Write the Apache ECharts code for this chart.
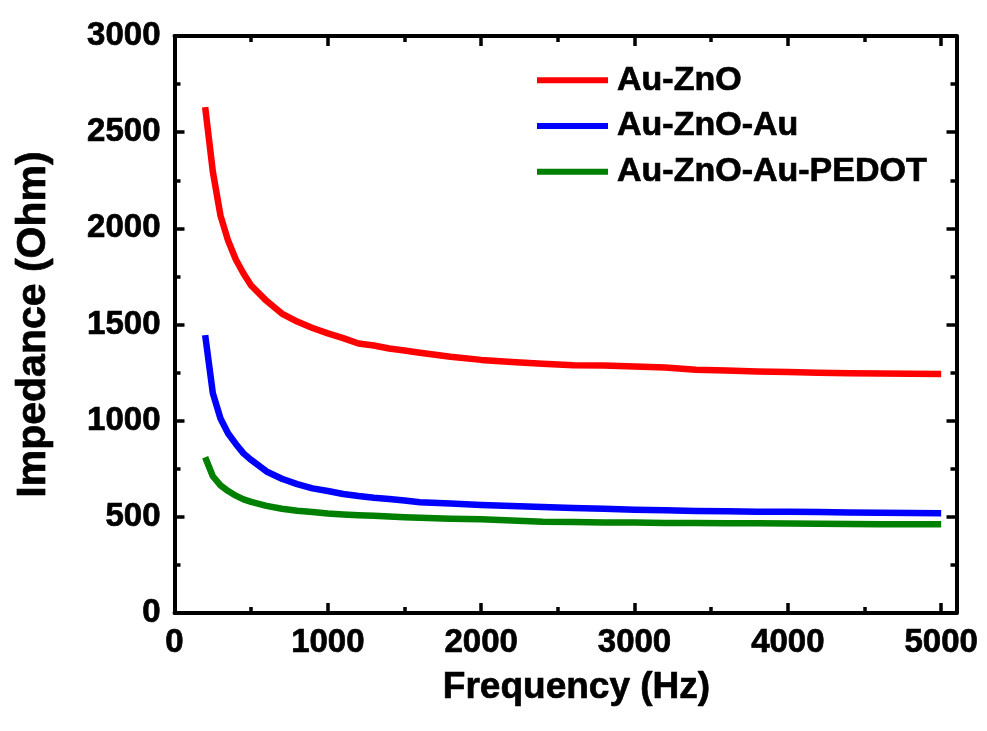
<!DOCTYPE html>
<html>
<head>
<meta charset="utf-8">
<script src="https://cdn.jsdelivr.net/npm/echarts@6/dist/echarts.min.js"></script>
<style>
  html, body { margin: 0; padding: 0; background: #fff; }
  #chart { width: 987px; height: 731px; }
</style>
</head>
<body>
<div id="chart"></div>
<script>
// Impedance vs. frequency for three electrode stacks
const frequency = [200, 250, 300, 350, 400, 450, 500, 600, 700, 800, 900, 1000,
  1100, 1200, 1300, 1400, 1500, 1600, 1800, 2000, 2200, 2400, 2600, 2800, 3000,
  3200, 3400, 3600, 3800, 4000, 4200, 4400, 4600, 4800, 5000];

const auZnO = [2630, 2295, 2066, 1935, 1838, 1765, 1703, 1623, 1557, 1515, 1482, 1454,
  1429, 1401, 1391, 1375, 1365, 1353, 1332, 1316, 1305, 1296, 1288, 1287, 1282,
  1276, 1265, 1261, 1256, 1253, 1249, 1246, 1245, 1244, 1243];

const auZnOAu = [1445, 1143, 1011, 933, 879, 830, 796, 736, 698, 670, 648, 634,
  619, 608, 599, 593, 585, 576, 569, 561, 556, 551, 546, 542, 537,
  534, 530, 529, 527, 526, 525, 523, 521, 520, 518];

const auZnOAuPedot = [810, 711, 664, 634, 610, 591, 578, 557, 542, 532, 525, 517,
  512, 508, 505, 502, 498, 495, 490, 487, 481, 475, 473, 471, 470,
  468, 468, 467, 466, 465, 464, 463, 462, 462, 461];

const seriesNames = ['Au-ZnO', 'Au-ZnO-Au', 'Au-ZnO-Au-PEDOT'];
const seriesColors = ['#ff0000', '#0000ff', '#008000'];

const xMajorTicks = [0, 1000, 2000, 3000, 4000, 5000];
const xMinorTicks = [500, 1500, 2500, 3500, 4500];
const yMajorTicks = [0, 500, 1000, 1500, 2000, 2500, 3000];
const yMinorTicks = [250, 750, 1250, 1750, 2250, 2750];

const FONT = '"Liberation Sans", Arial, Helvetica, sans-serif';
const X_MIN = 0, X_MAX = 5100, Y_MIN = 0, Y_MAX = 3000;

// heavy black text used for every label
const heavyText = {
  color: '#000', fontFamily: FONT, fontWeight: 'bold',
  textBorderColor: '#000', textBorderWidth: 0.7
};

function zip(xs, ys) {
  return xs.map((x, i) => [x, ys[i]]);
}

// One axis per side for the long ticks and one for the short ticks
function tickAxis(position, ticks, tickLen, withLine, isX) {
  return {
    type: 'value',
    position: position,
    min: isX ? X_MIN : Y_MIN,
    max: isX ? X_MAX : Y_MAX,
    axisLine: { show: withLine, onZero: false, lineStyle: { color: '#000', width: 4 } },
    axisTick: {
      show: true, inside: true, length: tickLen, customValues: ticks,
      lineStyle: { color: '#000', width: 3.5 }
    },
    axisLabel: { show: false },
    splitLine: { show: false }
  };
}

const labelStyle = Object.assign({ show: true, fontSize: 33, formatter: (v) => String(v) }, heavyText);

const xBottom = tickAxis('bottom', xMajorTicks, 10, true, true);
xBottom.axisLabel = Object.assign({}, labelStyle, { margin: 13, customValues: xMajorTicks });
xBottom.name = 'Frequency (Hz)';
xBottom.nameLocation = 'middle';
xBottom.nameGap = 56;
xBottom.nameTextStyle = Object.assign({ fontSize: 37, padding: [0, 0, 0, 22] }, heavyText);

const yLeft = tickAxis('left', yMajorTicks, 10, true, false);
yLeft.axisLabel = Object.assign({}, labelStyle, { margin: 14, customValues: yMajorTicks });
yLeft.name = 'Impedance (Ohm)';
yLeft.nameLocation = 'middle';
yLeft.nameGap = 120;
yLeft.nameTextStyle = Object.assign({ fontSize: 41 }, heavyText);

const option = {
  animation: false,
  backgroundColor: '#fff',
  grid: { left: 174.5, right: 30.5, top: 36, bottom: 118, containLabel: false },
  legend: {
    orient: 'vertical',
    left: 537,
    top: 63,
    padding: 0,
    itemGap: 11,
    itemWidth: 71,
    itemHeight: 6,
    icon: 'rect',
    data: seriesNames,
    textStyle: Object.assign({ fontSize: 34, lineHeight: 34, padding: [0, 0, 0, 4] }, heavyText)
  },
  xAxis: [
    xBottom,
    tickAxis('bottom', xMinorTicks, 6, false, true),
    tickAxis('top', xMajorTicks, 10, true, true),
    tickAxis('top', xMinorTicks, 6, false, true)
  ],
  yAxis: [
    yLeft,
    tickAxis('left', yMinorTicks, 6, false, false),
    tickAxis('right', yMajorTicks, 10, true, false),
    tickAxis('right', yMinorTicks, 6, false, false)
  ],
  series: [auZnO, auZnOAu, auZnOAuPedot].map((vals, i) => ({
    name: seriesNames[i],
    type: 'line',
    xAxisIndex: 0,
    yAxisIndex: 0,
    data: zip(frequency, vals),
    showSymbol: false,
    symbol: 'none',
    smooth: false,
    color: seriesColors[i],
    lineStyle: { color: seriesColors[i], width: 6.5, join: 'round' },
    z: 3 - i
  }))
};

const chart = echarts.init(document.getElementById('chart'), null, { renderer: 'canvas' });
chart.setOption(option);
</script>
</body>
</html>
